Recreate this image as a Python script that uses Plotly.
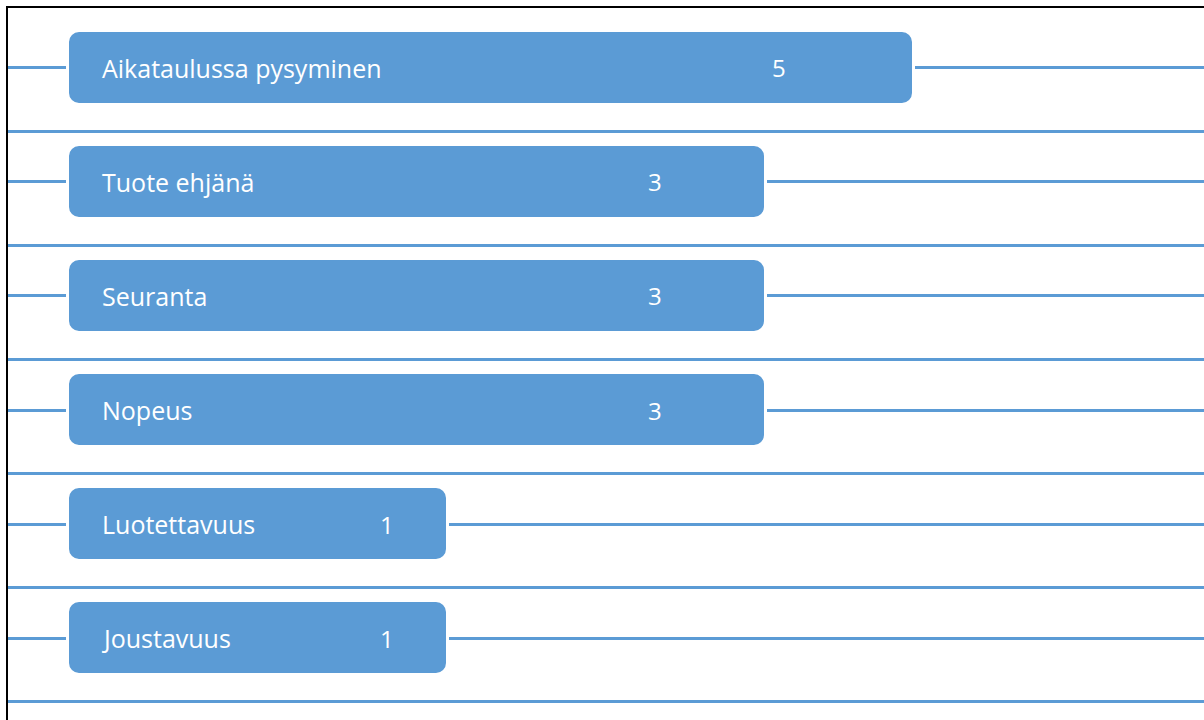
import math
import plotly.graph_objects as go

# Data
categories = ["Aikataulussa pysyminen", "Tuote ehjänä", "Seuranta", "Nopeus", "Luotettavuus", "Joustavuus"]
values = [5, 3, 3, 3, 1, 1]

# Styling
BLUE = "#5B9BD5"
LINE_BLUE = "#5B9BD5"
FONT = "Open Sans"
BASE = 0.27          # bar base on the log axis
SEP_OFFSET = 0.553   # separator-line offset below each bar centre (in band units)
VALUE_FRAC = 0.84    # where the value label sits along each bar (fraction of drawn length)

n = len(categories)
ypos = list(range(n))

fig = go.Figure()
fig.add_trace(go.Bar(
    y=ypos,
    x=[v - BASE for v in values],
    base=BASE,
    orientation="h",
    width=0.649,
    marker=dict(color=BLUE, cornerradius=12, line=dict(color="white", width=3)),
    hoverinfo="skip",
    showlegend=False,
))

annotations = []
for i, (c, v) in enumerate(zip(categories, values)):
    annotations.append(dict(
        x=math.log10(BASE), y=i, xref="x", yref="y", text=c, showarrow=False,
        xanchor="left", yanchor="middle", xshift=32,
        font=dict(family=FONT, size=25, color="white"),
    ))
    lv = math.log10(BASE) + VALUE_FRAC * (math.log10(v) - math.log10(BASE))
    annotations.append(dict(
        x=lv, y=i, xref="x", yref="y", text=str(v), showarrow=False,
        xanchor="center", yanchor="middle",
        font=dict(family=FONT, size=24, color="white"),
    ))

grid_vals = sorted(ypos + [i + SEP_OFFSET for i in ypos])

fig.update_layout(
    width=1204, height=720,
    margin=dict(l=8, r=0, t=8, b=0),
    paper_bgcolor="white", plot_bgcolor="white",
    annotations=annotations,
    bargap=0,
    xaxis=dict(type="log", range=[-0.659, 1.133], showgrid=False, zeroline=False,
               showticklabels=False, ticks="", side="top",
               showline=True, linecolor="black", linewidth=2),
    yaxis=dict(range=[5.719, -0.526], tickvals=grid_vals, showticklabels=False, ticks="",
               showgrid=True, gridcolor=LINE_BLUE, gridwidth=2.5, zeroline=False,
               showline=True, linecolor="black", linewidth=2),
)

fig.write_html("out.html")
